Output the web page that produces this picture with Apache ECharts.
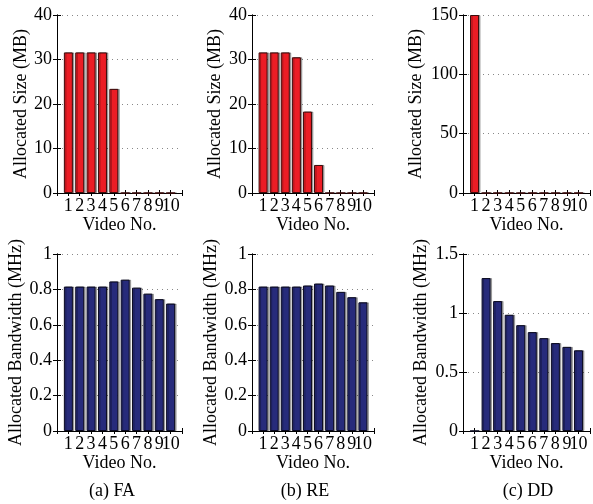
<!DOCTYPE html>
<html lang="en">
<head>
    <meta charset="UTF-8">
    <title>Allocated size and bandwidth per video</title>
    <script src="https://cdn.jsdelivr.net/npm/echarts@6/dist/echarts.min.js"></script>
    <style>
        body { margin: 0; background: #fff; }
    </style>
</head>
<body>
    <div id="main" style="width: 593px;height:504px;"></div>
    <script type="text/javascript">
        // video numbers (x axis)
        var videoNo = [1, 2, 3, 4, 5, 6, 7, 8, 9, 10];

        // allocated size (MB)
        var faSize = [31.6, 31.6, 31.6, 31.6, 23.4, 0, 0, 0, 0, 0];
        var reSize = [31.6, 31.6, 31.6, 30.5, 18.3, 6.3, 0, 0, 0, 0];
        var ddSize = [150, 0, 0, 0, 0, 0, 0, 0, 0, 0];

        // allocated bandwidth (MHz)
        var faBw = [0.816, 0.816, 0.816, 0.816, 0.845, 0.855, 0.81, 0.776, 0.745, 0.72];
        var reBw = [0.816, 0.816, 0.816, 0.816, 0.822, 0.833, 0.822, 0.786, 0.756, 0.727];
        var ddBw = [0, 1.296, 1.101, 0.985, 0.897, 0.838, 0.787, 0.745, 0.713, 0.684];

        // y tick labels
        var sizeTicks = [0, 10, 20, 30, 40];
        var ddSizeTicks = [0, 50, 100, 150];
        var bwTicks = [0, 0.2, 0.4, 0.6, 0.8, 1];
        var ddBwTicks = [0, 0.5, 1, 1.5];

        var captions = ['(a) FA', '(b) RE', '(c) DD'];

        var font = '"Liberation Serif", "Times New Roman", Times, serif';
        var red = '#ec1d25', blue = '#272b7b';

        // one entry per panel: where it sits and what it shows
        var panels = [
            {left: 57,  top: 15,  width: 125, height: 178, data: faSize, ticks: sizeTicks,   color: red,  edge: '#3c0b0b', name: 'Allocated Size (MB)',        gap: 27},
            {left: 252, top: 15,  width: 122, height: 178, data: reSize, ticks: sizeTicks,   color: red,  edge: '#3c0b0b', name: 'Allocated Size (MB)',        gap: 28},
            {left: 463, top: 15,  width: 127, height: 178, data: ddSize, ticks: ddSizeTicks, color: red,  edge: '#3c0b0b', name: 'Allocated Size (MB)',        gap: 38},
            {left: 57,  top: 254, width: 125, height: 177, data: faBw,   ticks: bwTicks,     color: blue, edge: '#0a0a20', name: 'Allocated Bandwidth (MHz)',  gap: 31},
            {left: 252, top: 254, width: 122, height: 177, data: reBw,   ticks: bwTicks,     color: blue, edge: '#0a0a20', name: 'Allocated Bandwidth (MHz)',  gap: 31},
            {left: 463, top: 254, width: 127, height: 177, data: ddBw,   ticks: ddBwTicks,   color: blue, edge: '#0a0a20', name: 'Allocated Bandwidth (MHz)',  gap: 33}
        ];

        var myChart = echarts.init(document.getElementById('main'), null, {renderer: 'canvas'});

        var grids = [], xAxes = [], yAxes = [], series = [];
        var txt = {fontFamily: font, fontSize: 18, color: '#000'};

        panels.forEach(function(p, i) {
            grids.push({left: p.left, top: p.top, width: p.width, height: p.height, show: false});
            var yMax = p.ticks[p.ticks.length - 1];
            var yStep = p.ticks[1] - p.ticks[0];
            // bottom x axis with labels
            xAxes.push({
                gridIndex: i, type: 'value', min: 0, max: 11, interval: 1, position: 'bottom',
                name: 'Video No.', nameLocation: 'middle', nameGap: 18, nameTextStyle: txt,
                axisLine: {show: true, lineStyle: {color: '#000', width: 1}},
                axisTick: {show: true, inside: true, length: 3, lineStyle: {color: '#000'}},
                axisLabel: {margin: 4, fontFamily: font, fontSize: 18, color: '#000',
                    formatter: function(v) { return videoNo.indexOf(v) >= 0 ? String(v) : ''; }},
                splitLine: {show: false}
            });
            // top x axis, just the box edge and ticks
            xAxes.push({
                gridIndex: i, type: 'value', min: 0, max: 11, interval: 1, position: 'top',
                axisLine: {show: true, lineStyle: {color: '#000', width: 1}},
                axisTick: {show: true, inside: true, length: 3, lineStyle: {color: '#000'}},
                axisLabel: {show: false}, splitLine: {show: false}
            });
            yAxes.push({
                gridIndex: i, type: 'value', min: 0, max: yMax, interval: yStep, position: 'left',
                name: p.name, nameLocation: 'middle', nameGap: p.gap, nameRotate: 90, nameTextStyle: txt,
                axisLine: {show: true, lineStyle: {color: '#000', width: 1}},
                axisTick: {show: true, inside: true, length: 4, lineStyle: {color: '#000'}},
                axisLabel: {margin: 5, fontFamily: font, fontSize: 18, color: '#000'},
                splitLine: {show: true, lineStyle: {color: '#888', type: [1, 4], width: 1}}
            });
            yAxes.push({
                gridIndex: i, type: 'value', min: 0, max: yMax, interval: yStep, position: 'right',
                axisLine: {show: true, lineStyle: {color: '#000', width: 1}},
                axisTick: {show: true, inside: true, length: 4, lineStyle: {color: '#000'}},
                axisLabel: {show: false}, splitLine: {show: false}
            });
            series.push({
                type: 'bar',
                xAxisIndex: i * 2,
                yAxisIndex: i * 2,
                barWidth: Math.round(p.width / 11 * 0.8),
                data: videoNo.map(function(v, k) { return [v, p.data[k]]; }),
                itemStyle: {
                    color: p.color, borderColor: p.edge, borderWidth: 1,
                    shadowColor: 'rgba(0,0,0,0.3)', shadowOffsetX: 1.5, shadowBlur: 0
                },
                clip: true,
                animation: false,
                silent: true
            });
        });

        var capX = [112, 305, 528];
        var option = {
            backgroundColor: '#fff',
            animation: false,
            textStyle: {fontFamily: font},
            grid: grids,
            xAxis: xAxes,
            yAxis: yAxes,
            series: series,
            graphic: captions.map(function(c, i) {
                return {
                    type: 'text', x: capX[i], y: 491,
                    style: {text: c, fontFamily: font, fontSize: 18, fill: '#000', align: 'center', verticalAlign: 'middle'}
                };
            })
        };

        myChart.setOption(option);
    </script>
</body>
</html>
